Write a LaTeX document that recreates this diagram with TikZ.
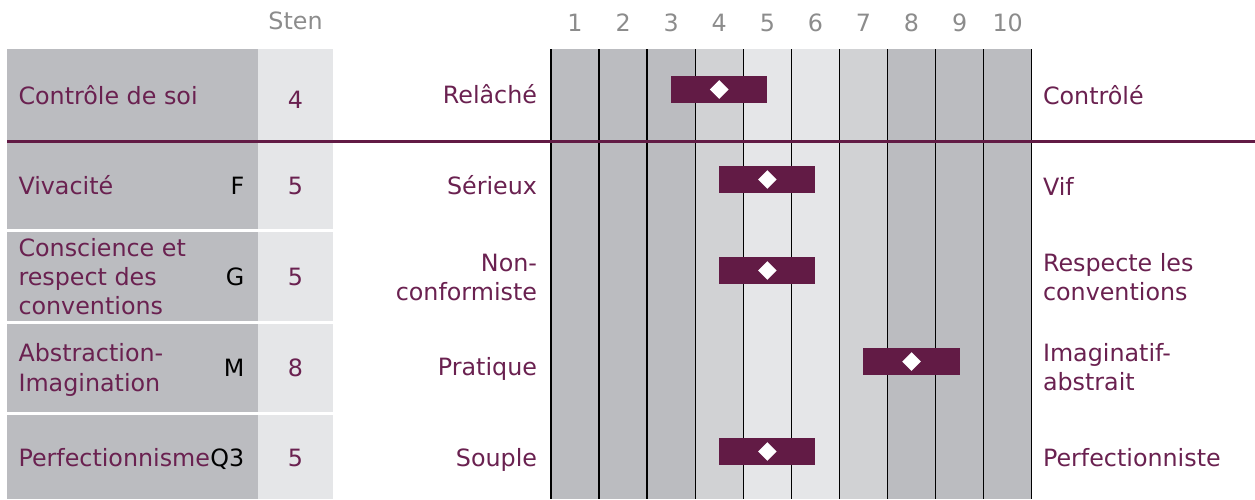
\documentclass[tikz,border=0pt]{standalone}
\usepackage{fontspec}
\setmainfont{DejaVu Sans}
\usetikzlibrary{shapes.geometric}
\definecolor{plum}{HTML}{621B45}
\definecolor{ptext}{HTML}{6A2150}
\definecolor{gdark}{HTML}{BBBCC0}
\definecolor{gmid}{HTML}{D1D2D4}
\definecolor{glight}{HTML}{E5E6E8}
\definecolor{hdr}{HTML}{8C8C8C}
\begin{document}
\begin{tikzpicture}[x=1pt,y=-1pt,
  font=\fontsize{23.8}{28}\selectfont,
  cellbox/.style={inner sep=0,outer sep=0,anchor=north west,draw=none},
  labcell/.style={cellbox,fill=gdark,minimum width=251},
  stencell/.style={cellbox,fill=glight,minimum width=75},
  colbox/.style={cellbox,minimum width=48.07,minimum height=450},
  txtL/.style={inner sep=0,outer sep=0,text=ptext,anchor=base west},
  txtR/.style={inner sep=0,outer sep=0,text=ptext,anchor=base east},
  txtC/.style={inner sep=0,outer sep=0,text=ptext,anchor=base},
  factor/.style={inner sep=0,outer sep=0,text=black,anchor=base east},
  hdrtxt/.style={inner sep=0,outer sep=0,text=hdr,anchor=base},
  scorebar/.style={inner sep=0,outer sep=0,fill=plum,minimum width=96.14,minimum height=27},
  mark diamond/.style={diamond,inner sep=0,outer sep=0,fill=white,minimum width=18.6,minimum height=18.6},
  gridline/.style={black,line width=1.3pt},
  sepline/.style={plum,line width=3pt}
]
\useasboundingbox (0,0) rectangle (1255,499);

% header
\node[hdrtxt] (sten) at (295.5,29) {Sten};
\foreach \i in {1,...,10}{
  \node[hdrtxt] (h\i) at ({551+(\i-0.5)*48.07},31) {\i};
}

% chart columns
\foreach \i/\c in {1/gdark,2/gdark,3/gdark,4/gmid,5/glight,6/glight,7/gmid,8/gdark,9/gdark,10/gdark}{
  \node[colbox,fill=\c] (col\i) at ({551+(\i-1)*48.07},49) {};
}
\foreach \i in {0,...,10}{
  \coordinate (vt\i) at ({551+\i*48.07},49);
  \coordinate (vb\i) at ({551+\i*48.07},499);
  \draw[gridline] (vt\i) -- (vb\i);
}

% left table cells
\node[labcell,minimum height=91] (l1) at (7,49) {};
\node[stencell,minimum height=91] (s1) at (258,49) {};
\node[labcell,minimum height=86] (l2) at (7,143) {};
\node[stencell,minimum height=86] (s2) at (258,143) {};
\node[labcell,minimum height=89] (l3) at (7,232) {};
\node[stencell,minimum height=89] (s3) at (258,232) {};
\node[labcell,minimum height=87.7] (l4) at (7,324) {};
\node[stencell,minimum height=87.7] (s4) at (258,324) {};
\node[labcell,minimum height=84] (l5) at (7,415) {};
\node[stencell,minimum height=84] (s5) at (258,415) {};

% separator line
\coordinate (sepA) at (7,141.5);
\coordinate (sepB) at (1255,141.5);
\draw[sepline] (sepA) -- (sepB);

% row 1
\node[txtL] (n1) at (18.5,104.3) {Contrôle de soi};
\node[txtC] (v1) at (295.5,108.3) {4};
\node[txtR] (p1) at (537,103.5) {Relâché};
\node[txtL] (q1) at (1043,104) {Contrôlé};
\node[scorebar] (b1) at (719.25,89.5) {};
\node[mark diamond] (d1) at (719.25,89.5) {};

% row 2
\node[txtL] (n2) at (18.5,194.3) {Vivacité};
\node[factor] (f2) at (244.3,194.3) {F};
\node[txtC] (v2) at (295.5,194.3) {5};
\node[txtR] (p2) at (537,194.3) {Sérieux};
\node[txtL] (q2) at (1043,195) {Vif};
\node[scorebar] (b2) at (767.32,179.5) {};
\node[mark diamond] (d2) at (767.32,179.5) {};

% row 3
\node[txtL] (n3a) at (18.5,256) {Conscience et};
\node[txtL] (n3b) at (18.5,285) {respect des};
\node[txtL] (n3c) at (18.5,314.3) {conventions};
\node[factor] (f3) at (244.3,285) {G};
\node[txtC] (v3) at (295.5,285) {5};
\node[txtR] (p3a) at (537,271.7) {Non-};
\node[txtR] (p3b) at (537,300.3) {conformiste};
\node[txtL] (q3a) at (1043,271.7) {Respecte les};
\node[txtL] (q3b) at (1043,300.3) {conventions};
\node[scorebar] (b3) at (767.32,270.5) {};
\node[mark diamond] (d3) at (767.32,270.5) {};

% row 4
\node[txtL] (n4a) at (18.5,361.7) {Abstraction-};
\node[txtL] (n4b) at (18.5,391.5) {Imagination};
\node[factor] (f4) at (244.3,376.7) {M};
\node[txtC] (v4) at (295.5,376.7) {8};
\node[txtR] (p4) at (537,375.7) {Pratique};
\node[txtL] (q4a) at (1043,361.7) {Imaginatif-};
\node[txtL] (q4b) at (1043,390.7) {abstrait};
\node[scorebar] (b4) at (911.53,361.5) {};
\node[mark diamond] (d4) at (911.53,361.5) {};

% row 5
\node[txtL] (n5) at (18.5,466.7) {Perfectionnisme};
\node[factor] (f5) at (244.3,466.7) {Q3};
\node[txtC] (v5) at (295.5,466.7) {5};
\node[txtR] (p5) at (537,466.7) {Souple};
\node[txtL] (q5) at (1043,466.3) {Perfectionniste};
\node[scorebar] (b5) at (767.32,451.5) {};
\node[mark diamond] (d5) at (767.32,451.5) {};
\end{tikzpicture}
\end{document}
